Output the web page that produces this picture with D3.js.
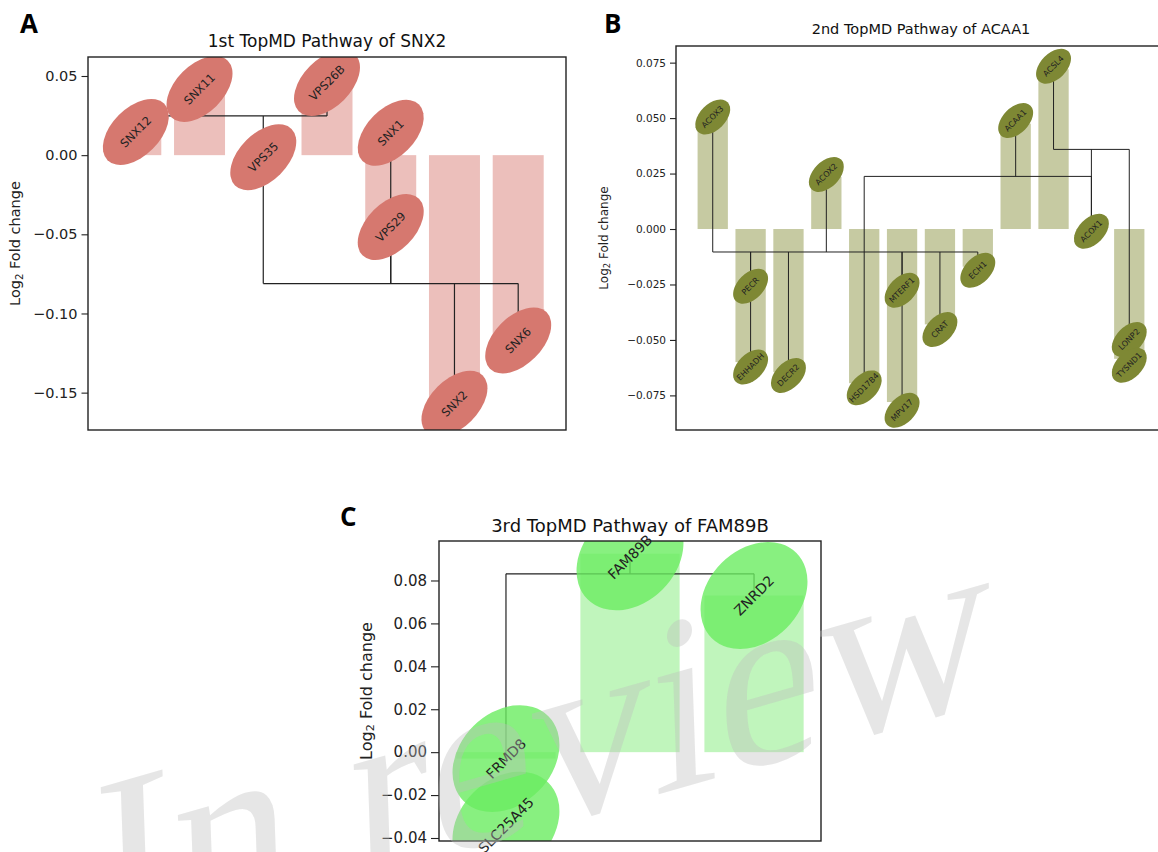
<!DOCTYPE html>
<html><head><meta charset="utf-8">
<script src="https://cdn.jsdelivr.net/npm/d3@7"></script>
<style>body{margin:0;background:#fff} svg{display:block}</style>
</head><body>
<svg id="chart" width="1158" height="852"></svg>
<script>
// ---------- Panel A : 1st TopMD Pathway of SNX2 ----------
const aGenes     = ["SNX12","SNX11","VPS35","VPS26B","SNX1","VPS29","SNX2","SNX6"];
const aPositions = [0, 1, 2, 3, 4, 4, 5, 6];
const aValues    = [0.0147, 0.0418, -0.0013, 0.0456, 0.0141, -0.0454, -0.157, -0.117];
const aBarValues = [0.0147, 0.0418, -0.0013, 0.0456, -0.0454, -0.157, -0.117];
const aLinkLevels  = [0.0248, -0.0811];
const aLinkMembers = [["SNX12","SNX11","VPS35","VPS26B"], ["VPS35","SNX1","VPS29","SNX2","SNX6"]];
const aTicks = [0.05, 0.00, -0.05, -0.10, -0.15];

// ---------- Panel B : 2nd TopMD Pathway of ACAA1 ----------
const bGenes     = ["ACOX3","PECR","EHHADH","DECR2","ACOX2","HSD17B4","MTERF1","MPV17","CRAT","ECH1","ACAA1","ACSL4","ACOX1","LONP2","TYSND1"];
const bPositions = [0, 1, 1, 2, 3, 4, 5, 5, 6, 7, 8, 9, 10, 11, 11];
const bValues    = [0.0505, -0.0258, -0.0622, -0.066, 0.0246, -0.0716, -0.0276, -0.0817, -0.0453, -0.0186, 0.0489, 0.0734, -0.001, -0.0498, -0.0614];
const bBarValues = [0.0500, -0.0600, -0.0645, 0.0235, -0.0695, -0.0780, -0.0430, -0.0170, 0.0475, 0.0720, -0.0005, -0.0585];
const bLinkLevels  = [-0.01036, 0.02372, 0.03589];
const bLinkMembers = [["ACOX3","PECR","EHHADH","DECR2","ACOX2","MTERF1","MPV17","CRAT","ECH1"], ["HSD17B4","ACAA1","ACOX1"], ["ACSL4","ACOX1","LONP2"]];
const bTicks = [0.075, 0.050, 0.025, 0.000, -0.025, -0.050, -0.075];

// ---------- Panel C : 3rd TopMD Pathway of FAM89B ----------
const cGenes     = ["FRMD8","SLC25A45","FAM89B","ZNRD2"];
const cPositions = [0, 0, 1, 2];
const cValues    = [-0.003, -0.034, 0.091, 0.073];
const cBarValues = [-0.003, 0.0925, 0.073];
const cLinkLevels  = [0.0831];
const cLinkMembers = [["FRMD8","FAM89B","ZNRD2"]];
const cTicks = [0.08, 0.06, 0.04, 0.02, 0.00, -0.02, -0.04];

const panels = [
  {letter:"A", title:"1st TopMD Pathway of SNX2", genes:aGenes, pos:aPositions, vals:aValues, bars:aBarValues,
   levels:aLinkLevels, members:aLinkMembers, ticks:aTicks, fmt:d3.format(".2f"),
   box:{x0:88,x1:566,y0:57,y1:430}, xDomain:[-0.75,6.75], yDomain:[-0.1736,0.062],
   rx:40, ry:24, ellColor:"#d6786f", ellOpacity:1, barColor:"#ecbfbb", geneFont:11.5,
   tickFont:14.5, tickLen:6.5, tickPad:4, labelFont:14.5, labelX:15, titleFont:17, titleY:47,
   letterX:20, letterY:33, lineW:1.2},
  {letter:"B", title:"2nd TopMD Pathway of ACAA1", genes:bGenes, pos:bPositions, vals:bValues, bars:bBarValues,
   levels:bLinkLevels, members:bLinkMembers, ticks:bTicks, fmt:d3.format(".3f"),
   box:{x0:676,x1:1166,y0:46,y1:430}, xDomain:[-0.97,11.97], yDomain:[-0.0906,0.0825],
   rx:21, ry:13, ellColor:"#7e8834", ellOpacity:1, barColor:"#c6caa2", geneFont:8,
   tickFont:10.5, tickLen:6, tickPad:4, labelFont:12, labelX:604, titleFont:14.5, titleY:34,
   letterX:604, letterY:33, lineW:1},
  {letter:"C", title:"3rd TopMD Pathway of FAM89B", genes:cGenes, pos:cPositions, vals:cValues, bars:cBarValues,
   levels:cLinkLevels, members:cLinkMembers, ticks:cTicks, fmt:d3.format(".2f"),
   box:{x0:439,x1:821,y0:541,y1:841}, xDomain:[-0.54,2.54], yDomain:[-0.0414,0.0984],
   rx:60, ry:46, ellColor:"#6aec60", ellOpacity:0.8, barColor:"#c0f5bc", geneFont:14,
   tickFont:15, tickLen:8, tickPad:4, labelFont:16, labelX:366, titleFont:18, titleY:532,
   letterX:340, letterY:526, lineW:1.2}
];

const svg = d3.select("#chart");
const defs = svg.append("defs");

panels.forEach((p, pi) => {
  const g = svg.append("g");
  const x = d3.scaleLinear().domain(p.xDomain).range([p.box.x0, p.box.x1]);
  const y = d3.scaleLinear().domain(p.yDomain).range([p.box.y1, p.box.y0]);
  const bw = (x(1) - x(0)) * 0.8;
  const clipId = "clip" + pi;
  defs.append("clipPath").attr("id", clipId).append("rect")
    .attr("x", p.box.x0).attr("y", p.box.y0)
    .attr("width", p.box.x1 - p.box.x0).attr("height", p.box.y1 - p.box.y0);
  const inner = g.append("g").attr("clip-path", `url(#${clipId})`);

  // bars
  inner.selectAll("rect.bar").data(p.bars).join("rect").attr("class","bar")
    .attr("x", (d,i) => x(i) - bw/2)
    .attr("y", d => y(Math.max(d, 0)))
    .attr("width", bw)
    .attr("height", d => Math.abs(y(d) - y(0)))
    .attr("fill", p.barColor);

  // dendrogram links
  const gx = name => x(p.pos[p.genes.indexOf(name)]);
  const gy = name => y(p.vals[p.genes.indexOf(name)]);
  p.levels.forEach((lev, k) => {
    const mem = p.members[k];
    const xs = mem.map(gx);
    inner.append("line")
      .attr("x1", d3.min(xs)).attr("x2", d3.max(xs))
      .attr("y1", y(lev)).attr("y2", y(lev))
      .attr("stroke", "#222").attr("stroke-width", p.lineW);
    inner.selectAll(null).data(mem).join("line")
      .attr("x1", gx).attr("x2", gx)
      .attr("y1", gy).attr("y2", y(lev))
      .attr("stroke", "#222").attr("stroke-width", p.lineW);
  });

  // ellipses
  const nodes = p.genes.map((n,i) => ({n, px: x(p.pos[i]), py: y(p.vals[i])}));
  inner.selectAll("ellipse").data(nodes).join("ellipse")
    .attr("transform", d => `translate(${d.px},${d.py}) rotate(-45)`)
    .attr("rx", p.rx).attr("ry", p.ry)
    .attr("fill", p.ellColor).attr("fill-opacity", p.ellOpacity);

  // gene labels (not clipped)
  g.selectAll("text.gene").data(nodes).join("text").attr("class","gene")
    .attr("transform", d => `translate(${d.px},${d.py}) rotate(-45)`)
    .attr("text-anchor", "middle").attr("dominant-baseline", "central")
    .attr("font-family", "DejaVu Sans").attr("font-size", p.geneFont)
    .attr("fill", "#222").text(d => d.n);

  // axis
  const ax = g.append("g").attr("transform", `translate(${p.box.x0},0)`)
    .call(d3.axisLeft(y).tickValues(p.ticks).tickFormat(p.fmt).tickSize(p.tickLen).tickPadding(p.tickPad));
  ax.select(".domain").remove();
  ax.selectAll("text").attr("font-family", "DejaVu Sans").attr("font-size", p.tickFont).attr("fill", "#222");
  ax.selectAll("line").attr("stroke", "#222").attr("stroke-width", 1.1);

  // frame
  g.append("rect").attr("x", p.box.x0).attr("y", p.box.y0)
    .attr("width", p.box.x1 - p.box.x0).attr("height", p.box.y1 - p.box.y0)
    .attr("fill", "none").attr("stroke", "#222").attr("stroke-width", 1.4);

  // y label
  const yl = g.append("text")
    .attr("transform", `translate(${p.labelX},${(p.box.y0 + p.box.y1)/2}) rotate(-90)`)
    .attr("text-anchor", "middle").attr("dominant-baseline", "central")
    .attr("font-family", "DejaVu Sans").attr("font-size", p.labelFont).attr("fill", "#222");
  yl.append("tspan").text("Log");
  yl.append("tspan").attr("font-size", p.labelFont * 0.7).attr("dy", p.labelFont * 0.25).text("2");
  yl.append("tspan").attr("dy", -p.labelFont * 0.25).text(" Fold change");

  // title
  g.append("text").attr("x", (p.box.x0 + p.box.x1) / 2).attr("y", p.titleY)
    .attr("text-anchor", "middle").attr("font-family", "DejaVu Sans")
    .attr("font-size", p.titleFont).attr("fill", "#111").text(p.title);

  // panel letter
  g.append("text").attr("x", p.letterX).attr("y", p.letterY)
    .attr("font-family", "Open Sans").attr("font-weight", "bold")
    .attr("font-size", 26).attr("fill", "#000").text(p.letter);
});

// watermark
svg.append("text")
  .attr("transform", "translate(98,955) rotate(-16) skewX(-14)")
  .attr("font-family", "Liberation Serif").attr("font-size", 245)
  .attr("fill", "rgb(190,190,190)").attr("fill-opacity", 0.38)
  .text("In review");
</script>
</body></html>
